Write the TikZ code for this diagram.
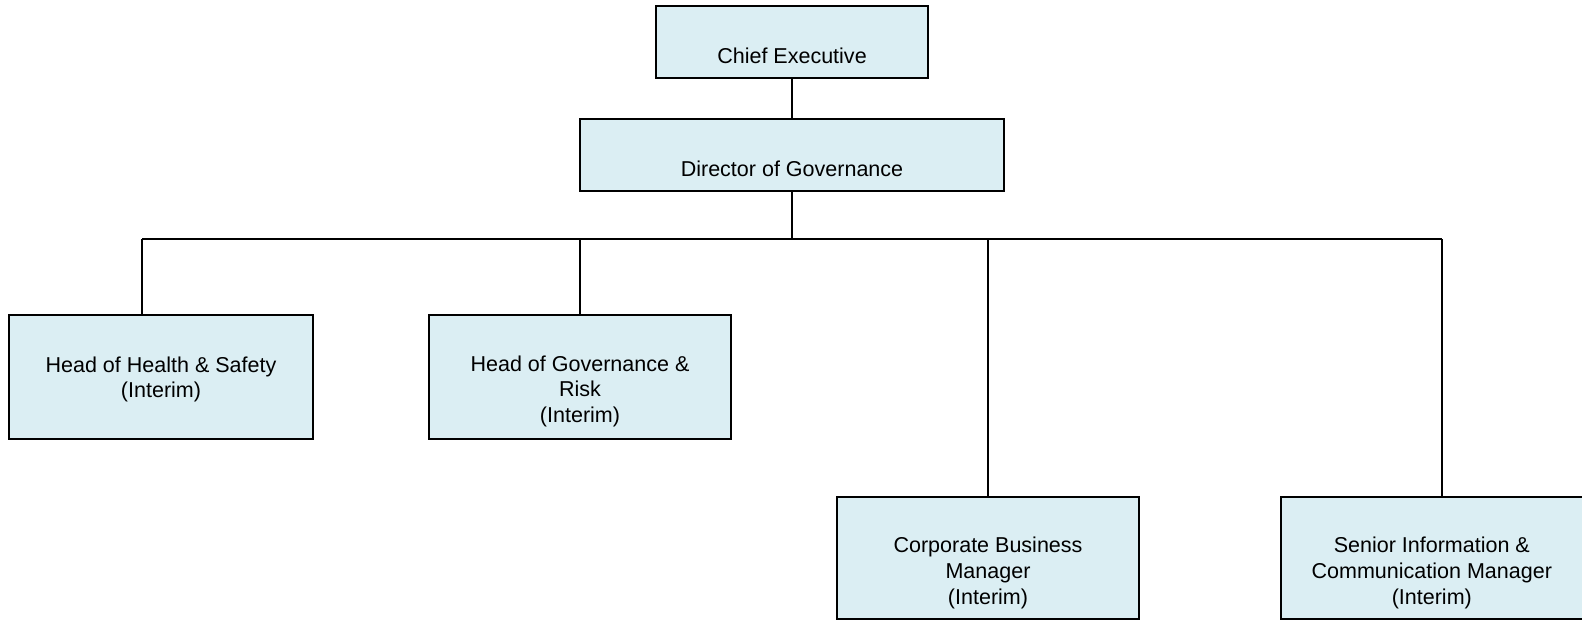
\documentclass[tikz,border=0pt]{standalone}
\usepackage{fontspec}
\setmainfont{Liberation Sans}
\usetikzlibrary{positioning}
\definecolor{boxfill}{HTML}{DBEEF3}

\begin{document}
\begin{tikzpicture}[
    x=0.025cm, y=-0.025cm,
    chartbox/.style={rectangle, draw=black, fill=boxfill, line width=1.2pt, minimum width=7.55cm, minimum height=3.1cm, inner sep=0pt},
    boxtext/.style={align=center, inner sep=0pt, font=\fontsize{15.3pt}{18.2pt}\selectfont},
    link/.style={line width=1.2pt},
    ]
\useasboundingbox (0,0) rectangle (1582,620);

%Boxes
\node[chartbox, minimum width=6.8cm, minimum height=1.8cm]  (CE)   at (792,42)             {};
\node[chartbox, minimum width=10.6cm, minimum height=1.8cm] (DG)   [below=0.975cm of CE]   {};
\node[chartbox, minimum width=7.6cm]                        (HHS)  at (161,377)            {};
\node[chartbox]                                             (HGR)  at (580,377)            {};
\node[chartbox, minimum height=3.05cm]                      (CBM)  at (988,558)            {};
\node[chartbox, minimum height=3.05cm]                      (SICM) [right=3.5cm of CBM]    {};

%Texts
\node[boxtext] (CE-t)   at ([yshift=-0.35cm]CE.center)    {Chief Executive};
\node[boxtext] (DG-t)   at ([yshift=-0.34cm]DG.center)    {Director of Governance};
\node[boxtext] (HHS-t)  at ([yshift=-0.06cm]HHS.center)   {Head of Health \& Safety\\(Interim)};
\node[boxtext] (HGR-t)  at ([yshift=-0.36cm]HGR.center)   {Head of Governance \&\\Risk\\(Interim)};
\node[boxtext] (CBM-t)  at ([yshift=-0.375cm]CBM.center)  {Corporate Business\\Manager\\(Interim)};
\node[boxtext] (SICM-t) at ([yshift=-0.375cm]SICM.center) {Senior Information \&\\Communication Manager\\(Interim)};

%Lines
\coordinate (busL) at (142,239);
\coordinate (busR) at (1442,239);
\draw[link] (CE) -- (DG);
\draw[link] (DG.south) -- (DG.south |- busL);
\draw[link] (busL) -- (busR);
\draw[link] (busL) -- (busL |- HHS.north);
\draw[link] (HGR.north |- busL) -- (HGR.north);
\draw[link] (CBM.north |- busL) -- (CBM.north);
\draw[link] (busR) -- (busR |- SICM.north);
\end{tikzpicture}
\end{document}
